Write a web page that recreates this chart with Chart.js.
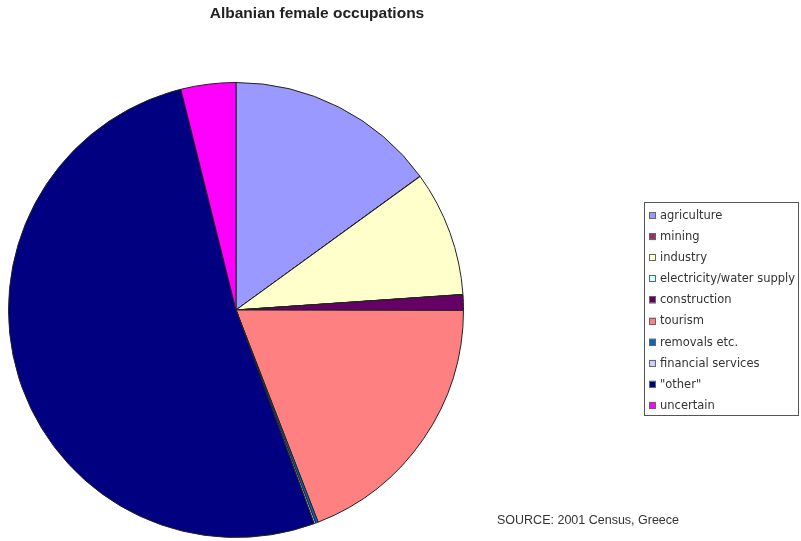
<!DOCTYPE html>
<html>
<head>
<meta charset="utf-8">
<script src="https://cdn.jsdelivr.net/npm/chart.js@4"></script>
<style>
  html, body { margin: 0; padding: 0; background: #fff; }
  canvas { display: block; }
</style>
</head>
<body>
<canvas id="pieChart" width="801" height="541"></canvas>
<script>
// occupation categories and shares (%)
const categories = ["agriculture", "mining", "industry", "electricity/water supply", "construction",
  "tourism", "removals etc.", "financial services", "\"other\"", "uncertain"];
const shares = [15.0, 0.02, 8.9, 0.02, 1.1, 19.1, 0.18, 0.12, 51.7, 3.9];
const sliceColors = ["#9999FF", "#993366", "#FFFFCC", "#CCFFFF", "#660066",
  "#FF8080", "#0066CC", "#CCCCFF", "#000080", "#FF00FF"];

const chartTitle = "Albanian female occupations";
const sourceNote = "SOURCE: 2001 Census, Greece";

// title, source and the boxed legend on the right
const extras = {
  id: "extras",
  afterDraw(chart) {
    const c = chart.ctx;
    c.save();
    c.fillStyle = "#222";
    c.font = "bold 15.5px Arial, 'Liberation Sans', sans-serif";
    c.textAlign = "center";
    c.textBaseline = "middle";
    c.fillText(chartTitle, 317, 14);

    c.font = "12.5px Arial, 'Liberation Sans', sans-serif";
    c.textAlign = "left";
    c.fillStyle = "#333";
    c.fillText(sourceNote, 497, 521);

    // legend box
    c.strokeStyle = "#555";
    c.lineWidth = 1;
    c.strokeRect(644.5, 202.5, 154, 213);
    c.font = "11.5px 'DejaVu Sans', sans-serif";
    const ds = chart.data.datasets[0];
    chart.data.labels.forEach((lab, i) => {
      const y = 215.5 + i * 21.1;
      c.fillStyle = ds.backgroundColor[i];
      c.fillRect(649, y - 3.5, 7, 7);
      c.strokeStyle = "#666";
      c.strokeRect(649.5, Math.round(y - 3.5) + 0.5, 6, 6);
      c.fillStyle = "#333";
      c.fillText(lab, 660, y + 0.5);
    });
    c.restore();
  }
};

new Chart(document.getElementById("pieChart"), {
  type: "pie",
  data: {
    labels: categories,
    datasets: [{
      data: shares,
      backgroundColor: sliceColors,
      borderColor: "#222",
      borderWidth: 1,
    }],
  },
  options: {
    responsive: false,
    animation: false,
    layout: { padding: { left: 8, top: 82, right: 337, bottom: 3 } },
    plugins: {
      legend: { display: false },
      tooltip: { enabled: false },
    },
  },
  plugins: [extras],
});
</script>
</body>
</html>
